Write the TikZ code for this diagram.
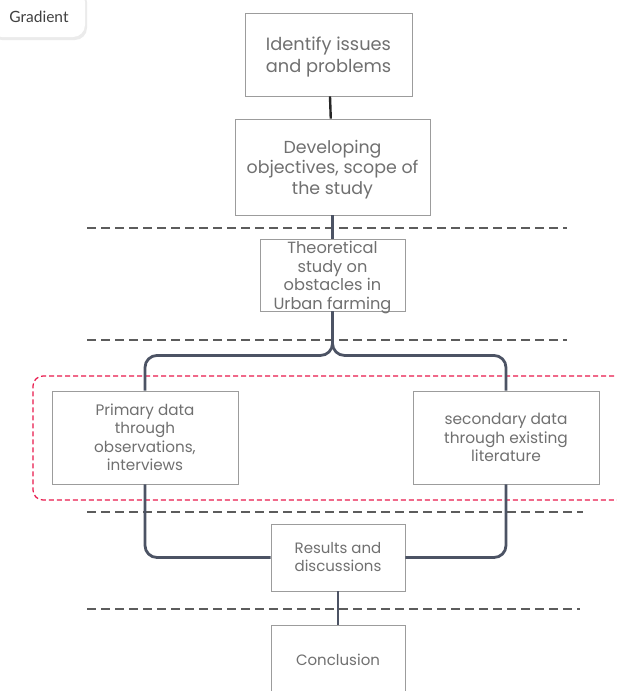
\documentclass[tikz,border=0pt]{standalone}
\usepackage{fontspec}
\setmainfont{Poppins}
\newfontfamily\tabfont{Lato}
\definecolor{boxline}{HTML}{9C9C9C}
\definecolor{boxtext}{HTML}{707070}
\definecolor{linkcol}{HTML}{4C5364}
\definecolor{sepcol}{HTML}{5C5C5C}
\definecolor{groupcol}{HTML}{E8184C}
\tikzset{
  stage/.style={draw=boxline, line width=0.9pt, fill=white, text=boxtext,
    align=center, inner sep=0pt},
  stagetext/.style={text=boxtext, align=center, inner sep=0pt},
  link/.style={draw=linkcol, line width=2.8pt},
  sep/.style={draw=sepcol, line width=2pt, dash pattern=on 9pt off 5pt},
}
\begin{document}
\begin{tikzpicture}[x=1pt,y=-1pt]
    \useasboundingbox (0,0) rectangle (617,691);
    % tab in the corner
    \fill[black!8, rounded corners=12pt] (-10,-10) rectangle (87,40);
    \fill[white, rounded corners=12pt] (-10,-10) rectangle (85,37);
    \node[text=black!75, font=\tabfont\fontsize{15.5}{17}\selectfont] (tab) at (39,17) {Gradient};
    % separators
    \draw[sep] (87,228) -- (567,228);
    \draw[sep] (87,340) -- (567,340);
    \draw[sep] (87,512) -- (583,512);
    \draw[sep] (87,609) -- (580,609);
    % group around the data boxes
    \draw[groupcol, line width=1.2pt, dash pattern=on 5pt off 3pt, rounded corners=10pt]
      (630,376) -- (33,376) -- (33,500) -- (630,500);
    % stages
    \node[stage, minimum width=167, minimum height=83] (issues) at (328.5,54.5) {};
    \node[stagetext, font=\fontsize{17.8}{22}\selectfont]
      (issuestxt) at (328.5,57) {Identify issues\\and problems};
    \node[stage, minimum width=195, minimum height=96] (obj) at (332.5,167) {};
    \node[stagetext, font=\fontsize{17.4}{20.5}\selectfont]
      (objtxt) at (332.5,169.5) {Developing\\objectives, scope of\\the study};
    \node[stage, minimum width=145, minimum height=72] (theo) at (332.5,275) {};
    \node[stagetext, font=\fontsize{16.2}{18.5}\selectfont]
      (theotxt) at (332.5,277.5) {Theoretical\\study on\\obstacles in\\Urban farming};
    \node[stage, minimum width=186, minimum height=93, font=\fontsize{15.2}{18.5}\selectfont]
      (prim) at (145,437.5) {Primary data\\through\\observations,\\interviews};
    \node[stage, minimum width=186, minimum height=93, font=\fontsize{15.4}{18.5}\selectfont]
      (sec) at (506,437.5) {secondary data\\through existing\\literature};
    \node[stage, minimum width=134, minimum height=67, font=\fontsize{15}{18}\selectfont]
      (res) at (338,557.5) {Results and\\discussions};
    \node[stage, minimum width=134, minimum height=80] (conc) at (338,665) {};
    \node[stagetext, font=\fontsize{15}{18}\selectfont] (conctxt) at (338,660) {Conclusion};
    % links
    \draw[draw=black!85, line width=2.4pt] (issues) -- (obj);
    \draw[link] (obj) -- (theo);
    \draw[link, rounded corners=12pt] (theo.south) -- ++(0,44) -| (prim.north);
    \draw[link, rounded corners=12pt] (theo.south) -- ++(0,44) -| (sec.north);
    \draw[link, rounded corners=12pt] (prim.south) |- (res.west);
    \draw[link, rounded corners=12pt] (sec.south) |- (res.east);
    \draw[link] (res) -- (conc);
\end{tikzpicture}
\end{document}
